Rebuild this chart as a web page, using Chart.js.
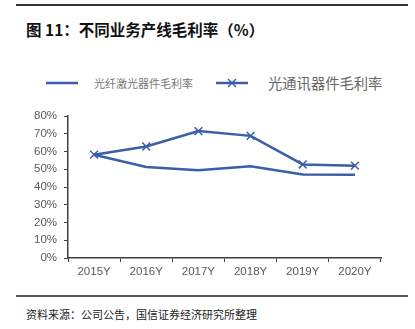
<!DOCTYPE html>
<html>
<head>
<meta charset="utf-8">
<script src="https://cdn.jsdelivr.net/npm/chart.js"></script>
<style>
  body { margin: 0; width: 415px; height: 329px; background: #fff; position: relative; overflow: hidden; font-family: 'Noto Sans CJK SC', sans-serif; }
  .rule { position: absolute; left: 16px; width: 392px; }
  .title { position: absolute; left: 26px; top: 18px; font-size: 15.5px; font-weight: bold; color: #111; white-space: nowrap; }
  .legend { position: absolute; top: 73px; left: 0; width: 415px; height: 20px; }
  .legend span { position: absolute; white-space: nowrap; line-height: 20px; }
  .legend svg { position: absolute; top: 0; }
  .source { position: absolute; left: 26px; top: 306px; font-size: 11px; color: #222; white-space: nowrap; }
  .chart-box { position: absolute; left: 0; top: 100px; width: 415px; height: 185px; }
</style>
</head>
<body>
  <div class="rule" style="top:4px;height:2px;background:#333;"></div>
  <div class="title">图 11：不同业务产线毛利率（%）</div>

  <div class="legend">
    <svg style="left:46px" width="32" height="20"><line x1="0" y1="10" x2="32" y2="10" stroke="#3a5ea8" stroke-width="2.5"/></svg>
    <span style="left:94px;font-size:11px;color:#777;">光纤激光器件毛利率</span>
    <svg style="left:216px" width="32" height="20"><line x1="0" y1="10" x2="32" y2="10" stroke="#3a5ea8" stroke-width="2.5"/><path d="M12 6 L20 14 M20 6 L12 14" stroke="#3a5ea8" stroke-width="1.5"/></svg>
    <span style="left:268px;font-size:14.3px;color:#666;">光通讯器件毛利率</span>
  </div>

  <div class="chart-box"><canvas id="c"></canvas></div>

  <div class="rule" style="top:295px;height:1.5px;background:#555;"></div>
  <div class="source">资料来源：公司公告，国信证券经济研究所整理</div>

<script>
const years = ['2015Y', '2016Y', '2017Y', '2018Y', '2019Y', '2020Y'];
const fiberLaser = [58.2, 51.3, 49.5, 51.7, 47.0, 46.9];
const opticalComm = [58.2, 62.8, 71.5, 68.8, 52.7, 52.0];
const yTicks = [0, 10, 20, 30, 40, 50, 60, 70, 80];

const lineColor = '#3a5ea8';
const axisColor = '#404040';
const tickFont = { family: 'Liberation Sans, Arial, sans-serif', size: 11.5 };

new Chart(document.getElementById('c'), {
  type: 'line',
  data: {
    labels: years,
    datasets: [
      {
        label: '光纤激光器件毛利率',
        data: fiberLaser,
        borderColor: lineColor,
        borderWidth: 2.5,
        pointRadius: 0,
        tension: 0
      },
      {
        label: '光通讯器件毛利率',
        data: opticalComm,
        borderColor: lineColor,
        borderWidth: 2.5,
        pointStyle: 'crossRot',
        pointRadius: 5.5,
        pointBorderWidth: 1.5,
        pointBorderColor: lineColor,
        tension: 0
      }
    ]
  },
  options: {
    responsive: true,
    maintainAspectRatio: false,
    animation: false,
    layout: { padding: { top: 16, right: 34, left: 0, bottom: 0 } },
    plugins: { legend: { display: false }, tooltip: { enabled: false } },
    scales: {
      x: {
        offset: true,
        grid: { offset: true, drawOnChartArea: false, drawTicks: true, tickLength: 4, color: axisColor },
        border: { color: axisColor, width: 1.5 },
        ticks: { color: '#595959', font: tickFont, padding: 3, maxRotation: 0 },
        afterFit: s => { s.height = 27; }
      },
      y: {
        min: 0,
        max: 80,
        afterBuildTicks: s => { s.ticks = yTicks.map(v => ({ value: v })); },
        grid: { drawOnChartArea: false, drawTicks: true, tickLength: 4, color: axisColor },
        border: { color: axisColor, width: 1.5 },
        ticks: { color: '#595959', font: tickFont, padding: 7, callback: v => v + '%' },
        afterFit: s => { s.width = 68; }
      }
    }
  }
});
</script>
</body>
</html>
